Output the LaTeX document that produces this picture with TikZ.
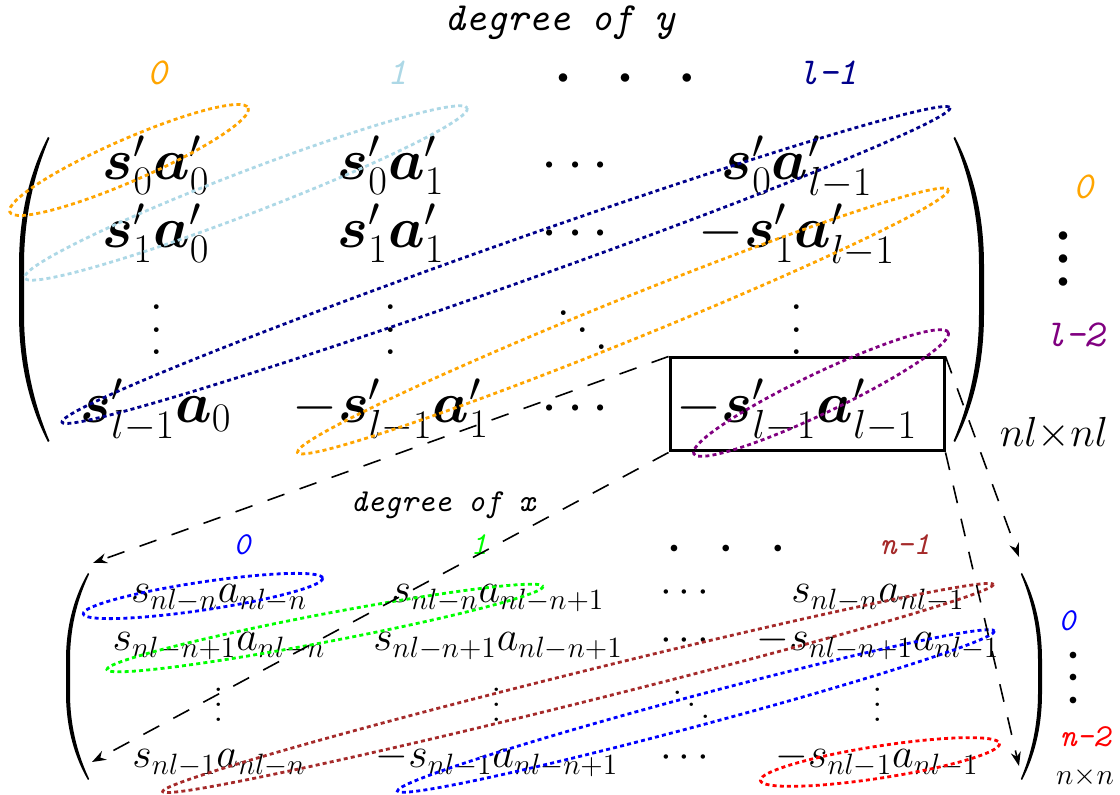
\RequirePackage{fix-cm}
\documentclass[tikz,border=0pt]{standalone}
\usepackage{amsmath}
\usetikzlibrary{arrows.meta}
\definecolor{cOrange}{RGB}{255,165,0}
\definecolor{cLight}{RGB}{173,216,230}
\definecolor{cNavy}{RGB}{0,0,139}
\definecolor{cPurple}{RGB}{128,0,128}
\definecolor{cBrown}{RGB}{165,42,42}
\definecolor{cGreen}{RGB}{0,255,0}
\definecolor{cBlue}{RGB}{0,0,255}
\definecolor{cRed}{RGB}{255,0,0}
% vertical dots with given spacing
\newcommand{\VDots}[1]{\vbox{\baselineskip#1\lineskiplimit0pt\kern#1\hbox{.}\hbox{.}\hbox{.}}}
% diagonal dots: #1 horizontal kern, #2 vertical step
\newcommand{\DDots}[2]{\hbox{\raise\dimexpr2\dimexpr#2\relax\relax\hbox{.}\kern#1\raise#2\hbox{.}\kern#1\hbox{.}}}
% #1 tip x, #2 top y, #3 bottom y, #4 outer middle x, #5 thickness (sign = direction)
\newcommand{\ParenShape}[5]{%
  \pgfmathsetmacro{\ph}{#3-#2}%
  \pgfmathsetmacro{\pw}{#1-#4}%
  \pgfmathsetmacro{\pin}{#4+#5}%
  \pgfmathsetmacro{\ptip}{#1+0.3*#5}%
  \fill ({#1},{#2}) .. controls ({#4+0.45*\pw},{#2+0.1*\ph}) and ({#4},{#2+0.24*\ph}) .. ({#4},{#2+0.42*\ph})
     -- ({#4},{#3-0.42*\ph}) .. controls ({#4},{#3-0.24*\ph}) and ({#4+0.45*\pw},{#3-0.1*\ph}) .. ({#1},{#3})
     -- ({\ptip},{#3-1}) .. controls ({\pin+0.45*\pw},{#3-0.1*\ph}) and ({\pin},{#3-0.24*\ph}) .. ({\pin},{#3-0.42*\ph})
     -- ({\pin},{#2+0.42*\ph}) .. controls ({\pin},{#2+0.24*\ph}) and ({\pin+0.45*\pw},{#2+0.1*\ph}) .. ({\ptip},{#2+1}) -- cycle;}
\begin{document}
\begin{tikzpicture}[x=0.5pt,y=-0.5pt,
  tm/.style={font=\fontsize{29}{35}\selectfont, inner sep=0pt, anchor=base},
  bm/.style={font=\fontsize{21}{25}\selectfont, inner sep=0pt, anchor=base},
  lblA/.style={font=\fontsize{19}{21}\selectfont\ttfamily\itshape, inner sep=0pt},
  lblB/.style={font=\fontsize{16}{18}\selectfont\ttfamily\itshape, inner sep=0pt},
  grp/.style={dash pattern=on 2pt off 1.6pt, line width=1.4pt},
  zoomline/.style={dash pattern=on 9pt off 8pt, line width=0.8pt, -{Stealth[length=7pt,width=5pt]}},
  bigdots/.style={font=\fontsize{11}{11.5}\selectfont, inner sep=0pt, align=center},
  smalldots/.style={font=\fontsize{8}{11.2}\selectfont, inner sep=0pt, align=center}]
\useasboundingbox (0,0) rectangle (1120,795);

% ---------- top matrix ----------
\node[lblA, font=\fontsize{20}{22}\selectfont\ttfamily\itshape] (dy) at (560,23) {degree of y};
\node[lblA, text=cOrange] (cy0) at (157,73) {0};
\node[lblA, text=cLight] (cy1) at (397,73) {1};
\node[bigdots] (cyd) at (625,79) {$\bullet$\hspace{25.5pt}$\bullet$\hspace{25.5pt}$\bullet$};
\node[lblA, text=cNavy] (cyl) at (828,73) {l-1};

\ParenShape{48}{137}{442}{19}{5}
\ParenShape{955}{137}{442}{984}{-5}

\node[tm] (t11) at (156,180) {$\boldsymbol{s}'_0\boldsymbol{a}'_0$};
\node[tm] (t12) at (391,180) {$\boldsymbol{s}'_0\boldsymbol{a}'_1$};
\node[tm] (t13) at (580,180) {$\cdots$};
\node[tm] (t14) at (797,180) {$\boldsymbol{s}'_0\boldsymbol{a}'_{l-1}$};
\node[tm] (t21) at (156,248) {$\boldsymbol{s}'_1\boldsymbol{a}'_0$};
\node[tm] (t22) at (391,248) {$\boldsymbol{s}'_1\boldsymbol{a}'_1$};
\node[tm] (t23) at (580,248) {$\cdots$};
\node[tm] (t24) at (797,248) {$-\boldsymbol{s}'_1\boldsymbol{a}'_{l-1}$};
\node[tm] (t31) at (157,355) {\VDots{11.25pt}};
\node[tm] (t32) at (391,355) {\VDots{11.25pt}};
\node[tm, anchor=center] (t33) at (583,330) {\DDots{2.2pt}{8.5pt}};
\node[tm] (t34) at (797,355) {\VDots{11.25pt}};
\node[tm] (t41) at (156,423) {$\boldsymbol{s}'_{l-1}\boldsymbol{a}_0$};
\node[tm] (t42) at (391,423) {$-\boldsymbol{s}'_{l-1}\boldsymbol{a}'_1$};
\node[tm] (t43) at (580,423) {$\cdots$};
\node[tm] (t44) at (797,423) {$-\boldsymbol{s}'_{l-1}\boldsymbol{a}'_{l-1}$};

\node[draw, line width=1.5pt, minimum width=137pt, minimum height=46.5pt, inner sep=0pt] (box) at (807,404.5) {};

\node[lblA, text=cOrange] (ry0) at (1083,187) {0};
\node[bigdots] (ryd) at (1063,260) {$\bullet$\\$\bullet$\\$\bullet$};
\node[lblA, text=cPurple] (ryl) at (1075,335) {l-2};
\node[font=\fontsize{21}{24}\selectfont, inner sep=0pt, anchor=base] (nlnl) at (1054,447) {$nl{\times}nl$};

% top ellipses
\draw[grp, cOrange, rotate around={23.6:(129,160)}] (129,160) ellipse (130 and 21);
\draw[grp, cLight, rotate around={21:(246,193)}] (246,193) ellipse (237 and 21);
\draw[grp, cNavy, rotate around={19.5:(506,265)}] (506,265) ellipse (471 and 21);
\draw[grp, cOrange, rotate around={22:(623,321)}] (623,321) ellipse (351 and 21);
\draw[grp, cPurple, rotate around={25.5:(821,393)}] (821,393) ellipse (141 and 20);

% ---------- bottom matrix ----------
\node[lblB] (dx) at (443,505) {degree of x};
\node[lblB, text=cBlue] (cx0) at (242,545) {0};
\node[lblB, text=cGreen] (cx1) at (479,545) {1};
\node[smalldots] (cxd) at (726,549) {$\bullet$\hspace{21.7pt}$\bullet$\hspace{21.7pt}$\bullet$};
\node[lblB, text=cBrown] (cxn) at (905,545) {n-1};

\ParenShape{88}{573}{780}{66}{4}
\ParenShape{1022}{573}{780}{1042}{-4}

\node[bm] (b11) at (219,603) {$s_{nl-n}a_{nl-n}$};
\node[bm] (b12) at (498,603) {$s_{nl-n}a_{nl-n+1}$};
\node[bm] (b13) at (688,603) {$\cdots$};
\node[bm] (b14) at (878,603) {$s_{nl-n}a_{nl-1}$};
\node[bm] (b21) at (219,651) {$s_{nl-n+1}a_{nl-n}$};
\node[bm] (b22) at (498,651) {$s_{nl-n+1}a_{nl-n+1}$};
\node[bm] (b23) at (688,651) {$\cdots$};
\node[bm] (b24) at (878,651) {$-s_{nl-n+1}a_{nl-1}$};
\node[bm] (b31) at (219,722) {\VDots{7.5pt}};
\node[bm] (b32) at (497,722) {\VDots{7.5pt}};
\node[bm, anchor=center] (b33) at (692,705) {\DDots{1.7pt}{6pt}};
\node[bm] (b34) at (878,722) {\VDots{7.5pt}};
\node[bm] (b41) at (219,768) {$s_{nl-1}a_{nl-n}$};
\node[bm] (b42) at (497,768) {$-s_{nl-1}a_{nl-n+1}$};
\node[bm] (b43) at (688,768) {$\cdots$};
\node[bm] (b44) at (877,768) {$-s_{nl-1}a_{nl-1}$};

\node[lblB, text=cBlue] (rx0) at (1067,621) {0};
\node[smalldots] (rxd) at (1073,678) {$\bullet$\\$\bullet$\\$\bullet$};
\node[lblB, text=cRed] (rxn) at (1085,737) {n-2};
\node[font=\fontsize{14.8}{16}\selectfont, inner sep=0pt] (nn) at (1085,777) {$n{\times}n$};

% bottom ellipses
\draw[grp, cBlue, rotate around={8.5:(203,596)}] (203,596) ellipse (121 and 14);
\draw[grp, cGreen, rotate around={10.8:(325,628)}] (325,628) ellipse (222 and 14);
\draw[grp, cBrown, rotate around={14:(578,688)}] (578,688) ellipse (428 and 15);
\draw[grp, cBlue, rotate around={15:(696,711)}] (696,711) ellipse (309 and 15);
\draw[grp, cRed, rotate around={8.8:(880,762)}] (880,762) ellipse (121 and 16);

% ---------- zoom connectors ----------
\coordinate (p1) at (93,563);
\coordinate (p2) at (92,762);
\coordinate (p3) at (1019,557);
\coordinate (p4) at (1019,766);
\draw[zoomline] (box.north west) -- (p1);
\draw[zoomline] (box.south west) -- (p2);
\draw[zoomline] (box.north east) -- (p3);
\draw[zoomline] (box.south east) -- (p4);
\end{tikzpicture}
\end{document}
